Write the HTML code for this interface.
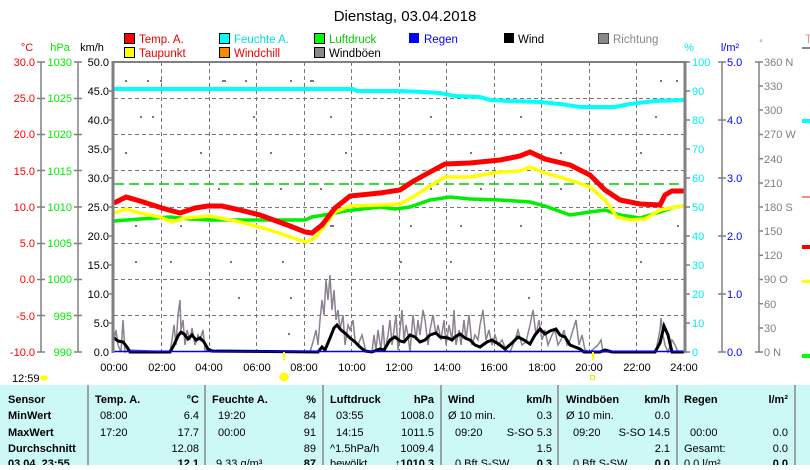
<!DOCTYPE html>
<html><head><meta charset="utf-8"><style>
body{margin:0;background:#fff;width:810px;height:465px;overflow:hidden;font-family:"Liberation Sans",sans-serif}
svg text{font-family:"Liberation Sans",sans-serif}
</style></head><body>
<svg width="810" height="465" viewBox="0 0 810 465" xmlns="http://www.w3.org/2000/svg">
<text x="405" y="21" font-size="15" text-anchor="middle">Dienstag, 03.04.2018</text>
<g font-size="11.5">
<rect x="124.5" y="33.5" width="10" height="10" fill="#f00" stroke="#000"/><text x="139" y="43" fill="#e00">Temp. A.</text>
<rect x="124.5" y="47.5" width="10" height="10" fill="#ff0" stroke="#000"/><text x="139" y="57" fill="#e00">Taupunkt</text>
<rect x="219.5" y="33.5" width="10" height="10" fill="#0ff" stroke="#000"/><text x="234" y="43" fill="#0dd">Feuchte A.</text>
<rect x="219.5" y="47.5" width="10" height="10" fill="#f80" stroke="#000"/><text x="234" y="57" fill="#e00">Windchill</text>
<rect x="314.5" y="33.5" width="10" height="10" fill="#0f0" stroke="#000"/><text x="329" y="43" fill="#0c0">Luftdruck</text>
<rect x="314.5" y="47.5" width="10" height="10" fill="#888" stroke="#000"/><text x="329" y="57">Windböen</text>
<rect x="409" y="33" width="10" height="10" fill="#00f"/><text x="424" y="43" fill="#00f">Regen</text>
<rect x="504" y="33" width="10" height="10" fill="#000"/><text x="518" y="43">Wind</text>
<rect x="598.5" y="33.5" width="10" height="10" fill="#888" stroke="#444"/><text x="613" y="43" fill="#888">Richtung</text>
<text x="805" y="43" fill="#f88">T</text><rect x="802" y="47" width="8" height="2" fill="#888"/>
</g>
<g font-size="11">
<text x="27" y="51" fill="#f00" text-anchor="middle">°C</text>
<text x="60" y="51" fill="#0e0" text-anchor="middle">hPa</text>
<text x="92" y="51" text-anchor="middle">km/h</text>
<text x="689" y="51" fill="#0ee" text-anchor="middle">%</text>
<text x="730" y="51" fill="#00f" text-anchor="middle">l/m²</text>
<text x="761" y="46" fill="#888" font-size="9" text-anchor="middle">°</text>
</g>
<g stroke="#777" stroke-dasharray="4,3" stroke-width="1">
<line x1="114" x2="684" y1="98.5" y2="98.5"/><line x1="114" x2="684" y1="134.5" y2="134.5"/><line x1="114" x2="684" y1="170.5" y2="170.5"/><line x1="114" x2="684" y1="207.5" y2="207.5"/><line x1="114" x2="684" y1="243.5" y2="243.5"/><line x1="114" x2="684" y1="279.5" y2="279.5"/><line x1="114" x2="684" y1="315.5" y2="315.5"/>
<line y1="62" y2="352" x1="161.5" x2="161.5"/><line y1="62" y2="352" x1="209.5" x2="209.5"/><line y1="62" y2="352" x1="256.5" x2="256.5"/><line y1="62" y2="352" x1="304.5" x2="304.5"/><line y1="62" y2="352" x1="351.5" x2="351.5"/><line y1="62" y2="352" x1="399.5" x2="399.5"/><line y1="62" y2="352" x1="446.5" x2="446.5"/><line y1="62" y2="352" x1="494.5" x2="494.5"/><line y1="62" y2="352" x1="541.5" x2="541.5"/><line y1="62" y2="352" x1="589.5" x2="589.5"/><line y1="62" y2="352" x1="636.5" x2="636.5"/>
</g>
<g fill="#777">
<rect x="125" y="80" width="2" height="2"/><rect x="147" y="80" width="2" height="2"/><rect x="160" y="80" width="2" height="2"/><rect x="222" y="80" width="4" height="2"/><rect x="245" y="80" width="2" height="2"/><rect x="290" y="80" width="2" height="2"/><rect x="310" y="80" width="4" height="2"/>
<rect x="140" y="116" width="2" height="2"/><rect x="152" y="116" width="2" height="2"/><rect x="253" y="116" width="2" height="2"/><rect x="330" y="116" width="2" height="2"/><rect x="430" y="116" width="2" height="2"/><rect x="520" y="116" width="2" height="2"/><rect x="655" y="116" width="2" height="2"/>
<rect x="125" y="152" width="2" height="2"/><rect x="200" y="152" width="2" height="2"/><rect x="270" y="152" width="2" height="2"/><rect x="345" y="152" width="2" height="2"/><rect x="470" y="152" width="2" height="2"/><rect x="560" y="152" width="2" height="2"/><rect x="640" y="152" width="2" height="2"/>
<rect x="218" y="188" width="2" height="2"/><rect x="280" y="188" width="2" height="2"/><rect x="320" y="188" width="2" height="2"/><rect x="395" y="188" width="2" height="2"/><rect x="430" y="188" width="2" height="2"/><rect x="480" y="188" width="2" height="2"/><rect x="560" y="188" width="2" height="2"/>
<rect x="135" y="225" width="2" height="2"/><rect x="180" y="225" width="2" height="2"/><rect x="330" y="225" width="4" height="2"/><rect x="410" y="225" width="2" height="2"/><rect x="460" y="225" width="2" height="2"/><rect x="520" y="225" width="2" height="2"/><rect x="677" y="225" width="2" height="2"/>
<rect x="135" y="261" width="2" height="2"/><rect x="170" y="261" width="2" height="2"/><rect x="230" y="261" width="2" height="2"/><rect x="282" y="261" width="2" height="2"/><rect x="400" y="261" width="2" height="2"/><rect x="450" y="261" width="2" height="2"/><rect x="640" y="261" width="2" height="2"/>
<rect x="238" y="297" width="2" height="2"/><rect x="290" y="297" width="2" height="2"/><rect x="528" y="297" width="2" height="2"/><rect x="288" y="333" width="2" height="2"/><rect x="660" y="80" width="2" height="2"/><rect x="676" y="80" width="2" height="2"/>
</g>
<line x1="114" x2="684" y1="184" y2="184" stroke="#0c0" stroke-width="1.5" stroke-dasharray="10,5"/>
<polyline fill="none" stroke="#0ff" stroke-width="4" points="114,89 353,89 357,91 400,91 423,92 440,93 455,96 480,97 490,100 510,101 540,102 560,104 580,107 615,107 630,104 655,101 684,100"/>
<polyline fill="none" stroke="#8a8290" stroke-width="1.5" points="114,340 116,330 118,345 121,352 123,320 125,352 130,350 170,352 172,340 174,325 176,345 178,315 180,300 181,330 183,320 185,345 187,330 190,340 192,328 195,345 198,335 200,340 203,330 205,350 212,352 310,352 313,342 316,330 318,345 320,320 322,300 324,315 326,280 328,300 330,275 332,310 334,290 336,320 338,310 340,330 343,315 345,345 348,325 350,330 353,320 355,340 358,345 362,335 366,352 372,352 374,335 376,350 378,330 381,350 383,325 385,352 388,335 390,320 392,345 394,330 396,315 398,350 400,330 402,310 404,340 406,325 408,335 410,352 413,315 416,340 418,320 420,335 423,310 425,320 428,345 430,330 433,315 436,335 438,325 441,340 444,320 446,345 449,325 452,340 454,310 456,345 459,330 461,345 464,320 466,340 469,315 472,345 475,335 478,340 480,325 483,310 486,340 489,330 492,345 495,335 498,345 502,340 506,350 510,352 515,340 518,330 522,345 526,342 530,325 533,310 536,335 539,320 542,340 545,330 548,345 552,335 555,330 558,345 561,340 564,330 567,345 570,340 573,330 576,320 579,345 582,335 585,350 590,352 598,345 601,340 603,352 656,352 658,340 660,330 661,318 663,335 665,345 668,352 672,340 675,345 678,352 684,352"/>
<polyline fill="none" stroke="#000" stroke-width="3" points="114,338 118,341 123,342 127,347 130,352 170,352 174,345 178,336 181,332 184,334 188,339 192,335 196,340 200,338 204,342 208,349 212,351 318,352 322,347 325,350 330,338 334,328 337,325 341,330 346,334 350,338 355,342 360,347 365,351 372,352 380,349 384,350 390,340 395,337 400,341 404,342 410,335 415,337 420,342 425,340 430,335 436,333 440,337 448,338 452,340 455,337 460,334 465,338 470,340 475,345 480,347 487,342 492,340 500,345 505,349 512,343 518,337 524,340 530,344 535,335 540,329 545,334 550,331 556,329 560,335 565,337 570,345 575,347 580,349 584,352 600,352 605,350 612,352 655,352 660,343 664,326 668,335 672,352 684,352"/>
<line x1="114" x2="684" y1="351.5" y2="351.5" stroke="#00f" stroke-width="1.5"/>
<polyline fill="none" stroke="#0e0" stroke-width="3.5" points="114,221 140,219 170,217 190,219 210,220 240,220 260,220 305,220 312,217 330,214 345,211 380,207 395,209 410,207 430,200 450,197 470,199 500,200 530,202 545,206 570,215 590,212 605,210 620,215 640,218 660,212 675,207 684,206"/>
<polyline fill="none" stroke="#ff0" stroke-width="3.5" points="114,213 126,209 140,213 160,217 172,222 185,218 210,216 240,222 270,230 290,237 306,242 315,238 325,225 335,212 350,206 380,205 400,204 413,197 430,186 445,177 470,177 500,172 520,171 530,167 545,173 570,180 590,187 605,200 617,217 630,220 645,219 660,210 675,207 684,206"/>
<polyline fill="none" stroke="#f00" stroke-width="5" points="114,203 126,197 140,201 162,208 180,213 195,208 208,206 222,206 240,210 260,215 290,226 305,232 312,233 322,225 335,208 350,196 380,193 400,190 412,182 430,172 445,164 470,163 500,160 520,156 530,152 545,159 570,165 590,175 605,190 620,200 640,204 660,205 665,195 672,191 684,191"/>
<line x1="113" y1="61" x2="113" y2="353" stroke="#808080" stroke-width="3"/>
<line x1="113" y1="62" x2="685" y2="62" stroke="#808080" stroke-width="2"/>
<line x1="685" y1="61" x2="685" y2="353" stroke="#808080" stroke-width="3"/>
<g stroke="#808080" stroke-width="1.5">
<line x1="41" y1="62" x2="41" y2="352"/><line x1="78" y1="62" x2="78" y2="352"/><line x1="722" y1="62" x2="722" y2="352"/><line x1="759" y1="62" x2="759" y2="352"/>
</g>
<g font-size="11" fill="#f00" text-anchor="end">
<text x="35" y="66">30.0</text><text x="35" y="102">25.0</text><text x="35" y="138">20.0</text><text x="35" y="175">15.0</text><text x="35" y="211">10.0</text><text x="35" y="247">5.0</text><text x="35" y="283">0.0</text><text x="35" y="320">-5.0</text><text x="35" y="356">-10.0</text>
</g>
<g font-size="11" fill="#0e0" text-anchor="end">
<text x="72" y="66">1030</text><text x="72" y="102">1025</text><text x="72" y="138">1020</text><text x="72" y="175">1015</text><text x="72" y="211">1010</text><text x="72" y="247">1005</text><text x="72" y="283">1000</text><text x="72" y="320">995</text><text x="72" y="356">990</text>
</g>
<g stroke="#808080" stroke-width="1.5">
<line x1="37" x2="45" y1="62" y2="62"/><line x1="37" x2="45" y1="98.5" y2="98.5"/><line x1="37" x2="45" y1="134.5" y2="134.5"/><line x1="37" x2="45" y1="170.5" y2="170.5"/><line x1="37" x2="45" y1="207" y2="207"/><line x1="37" x2="45" y1="243.5" y2="243.5"/><line x1="37" x2="45" y1="279.5" y2="279.5"/><line x1="37" x2="45" y1="315.5" y2="315.5"/><line x1="37" x2="45" y1="352" y2="352"/>
<line x1="74" x2="82" y1="62" y2="62"/><line x1="74" x2="82" y1="98.5" y2="98.5"/><line x1="74" x2="82" y1="134.5" y2="134.5"/><line x1="74" x2="82" y1="170.5" y2="170.5"/><line x1="74" x2="82" y1="207" y2="207"/><line x1="74" x2="82" y1="243.5" y2="243.5"/><line x1="74" x2="82" y1="279.5" y2="279.5"/><line x1="74" x2="82" y1="315.5" y2="315.5"/><line x1="74" x2="82" y1="352" y2="352"/>
<line x1="109" x2="113" y1="91" y2="91"/><line x1="109" x2="113" y1="120" y2="120"/><line x1="109" x2="113" y1="149" y2="149"/><line x1="109" x2="113" y1="178" y2="178"/><line x1="109" x2="113" y1="207" y2="207"/><line x1="109" x2="113" y1="236" y2="236"/><line x1="109" x2="113" y1="265" y2="265"/><line x1="109" x2="113" y1="294" y2="294"/><line x1="109" x2="113" y1="323" y2="323"/>
<line x1="686" x2="690" y1="91" y2="91"/><line x1="686" x2="690" y1="120" y2="120"/><line x1="686" x2="690" y1="149" y2="149"/><line x1="686" x2="690" y1="178" y2="178"/><line x1="686" x2="690" y1="207" y2="207"/><line x1="686" x2="690" y1="236" y2="236"/><line x1="686" x2="690" y1="265" y2="265"/><line x1="686" x2="690" y1="294" y2="294"/><line x1="686" x2="690" y1="323" y2="323"/><line x1="686" x2="690" y1="62" y2="62"/><line x1="686" x2="690" y1="352" y2="352"/>
<line x1="718" x2="726" y1="62" y2="62"/><line x1="718" x2="726" y1="120" y2="120"/><line x1="718" x2="726" y1="178" y2="178"/><line x1="718" x2="726" y1="236" y2="236"/><line x1="718" x2="726" y1="294" y2="294"/><line x1="718" x2="726" y1="352" y2="352"/>
<line x1="755" x2="763" y1="62" y2="62"/><line x1="759" x2="763" y1="86" y2="86"/><line x1="759" x2="763" y1="110" y2="110"/><line x1="759" x2="763" y1="134.5" y2="134.5"/><line x1="759" x2="763" y1="158.7" y2="158.7"/><line x1="759" x2="763" y1="183" y2="183"/><line x1="759" x2="763" y1="207" y2="207"/><line x1="759" x2="763" y1="231" y2="231"/><line x1="759" x2="763" y1="255.3" y2="255.3"/><line x1="759" x2="763" y1="279.5" y2="279.5"/><line x1="759" x2="763" y1="303.7" y2="303.7"/><line x1="759" x2="763" y1="328" y2="328"/><line x1="755" x2="763" y1="352" y2="352"/>
</g>
<g font-size="11" text-anchor="end">
<text x="109" y="66">50.0</text><text x="109" y="95">45.0</text><text x="109" y="124">40.0</text><text x="109" y="153">35.0</text><text x="109" y="182">30.0</text><text x="109" y="211">25.0</text><text x="109" y="240">20.0</text><text x="109" y="269">15.0</text><text x="109" y="298">10.0</text><text x="109" y="327">5.0</text><text x="109" y="356">0.0</text>
</g>
<g font-size="11" fill="#0ee">
<text x="692" y="66">100</text><text x="692" y="95">90</text><text x="692" y="124">80</text><text x="692" y="153">70</text><text x="692" y="182">60</text><text x="692" y="211">50</text><text x="692" y="240">40</text><text x="692" y="269">30</text><text x="692" y="298">20</text><text x="692" y="327">10</text><text x="692" y="356">0</text>
</g>
<g font-size="11" fill="#00f">
<text x="727" y="66">5.0</text><text x="727" y="124">4.0</text><text x="727" y="182">3.0</text><text x="727" y="240">2.0</text><text x="727" y="298">1.0</text><text x="727" y="356">0.0</text>
</g>
<g font-size="11" fill="#808080">
<text x="764" y="66">360 N</text><text x="764" y="90">330</text><text x="764" y="114">300</text><text x="764" y="138">270 W</text><text x="764" y="163">240</text><text x="764" y="187">210</text><text x="764" y="211">180 S</text><text x="764" y="235">150</text><text x="764" y="259">120</text><text x="764" y="283">90  O</text><text x="764" y="308">60</text><text x="764" y="332">30</text><text x="764" y="356">0   N</text>
</g>
<rect x="802" y="119" width="8" height="4" fill="#0ff"/><rect x="802" y="196" width="8" height="2" fill="#f88"/><rect x="802" y="245" width="8" height="4" fill="#f00"/><rect x="802" y="280" width="8" height="3" fill="#ff0"/><rect x="802" y="354" width="8" height="4" fill="#0f0"/>
<g font-size="11" text-anchor="middle">
<text x="114" y="371">00:00</text><text x="162" y="371">02:00</text><text x="209" y="371">04:00</text><text x="257" y="371">06:00</text><text x="304" y="371">08:00</text><text x="352" y="371">10:00</text><text x="399" y="371">12:00</text><text x="447" y="371">14:00</text><text x="494" y="371">16:00</text><text x="542" y="371">18:00</text><text x="589" y="371">20:00</text><text x="637" y="371">22:00</text><text x="684" y="371">24:00</text>
</g>
<rect x="283" y="352" width="2" height="8" fill="#ff0"/><rect x="592" y="352" width="2" height="8" fill="#ff0"/>
<circle cx="284" cy="377" r="4" fill="#ff0" stroke="#fe0" stroke-width="1.5" stroke-dasharray="1.5,1.5"/>
<rect x="590.5" y="375.5" width="4" height="4" fill="none" stroke="#ee0"/>
<text x="12" y="382" font-size="11">12:59</text><ellipse cx="44" cy="378" rx="4" ry="2.5" fill="#ff0"/>
<rect x="0" y="385" width="810" height="80" fill="#ccf8f6"/>
<g stroke="#888" stroke-width="1.5">
<line x1="88" y1="385" x2="88" y2="465"/><line x1="205" y1="385" x2="205" y2="465"/><line x1="323" y1="385" x2="323" y2="465"/><line x1="441" y1="385" x2="441" y2="465"/><line x1="558" y1="385" x2="558" y2="465"/><line x1="677" y1="385" x2="677" y2="465"/><line x1="795" y1="385" x2="795" y2="465"/>
</g>
<g font-size="11">
<g font-weight="bold"><text x="8" y="403">Sensor</text><text x="8" y="419">MinWert</text><text x="8" y="436">MaxWert</text><text x="8" y="452">Durchschnitt</text><text x="8" y="467">03.04. 23:55</text>
<text x="95" y="403">Temp. A.</text><text x="199" y="403" text-anchor="end">°C</text>
<text x="212" y="403">Feuchte A.</text><text x="316" y="403" text-anchor="end">%</text>
<text x="330" y="403">Luftdruck</text><text x="434" y="403" text-anchor="end">hPa</text>
<text x="448" y="403">Wind</text><text x="552" y="403" text-anchor="end">km/h</text>
<text x="566" y="403">Windböen</text><text x="670" y="403" text-anchor="end">km/h</text>
<text x="684" y="403">Regen</text><text x="788" y="403" text-anchor="end">l/m²</text></g>
<text x="100" y="419">08:00</text><text x="199" y="419" text-anchor="end">6.4</text>
<text x="100" y="436">17:20</text><text x="199" y="436" text-anchor="end">17.7</text>
<text x="199" y="452" text-anchor="end">12.08</text><text x="199" y="467" text-anchor="end" font-weight="bold">12.1</text>
<text x="218" y="419">19:20</text><text x="316" y="419" text-anchor="end">84</text>
<text x="218" y="436">00:00</text><text x="316" y="436" text-anchor="end">91</text>
<text x="316" y="452" text-anchor="end">89</text><text x="216" y="467">9.33 g/m³</text><text x="316" y="467" text-anchor="end" font-weight="bold">87</text>
<text x="336" y="419">03:55</text><text x="434" y="419" text-anchor="end">1008.0</text>
<text x="336" y="436">14:15</text><text x="434" y="436" text-anchor="end">1011.5</text>
<text x="330" y="452">^1.5hPa/h</text><text x="434" y="452" text-anchor="end">1009.4</text>
<text x="330" y="467">bewölkt</text><text x="434" y="467" text-anchor="end" font-weight="bold">↑1010.3</text>
<text x="448" y="419">Ø 10 min.</text><text x="552" y="419" text-anchor="end">0.3</text>
<text x="455" y="436">09:20</text><text x="552" y="436" text-anchor="end">S-SO 5.3</text>
<text x="552" y="452" text-anchor="end">1.5</text><text x="455" y="467">0 Bft S-SW</text><text x="552" y="467" text-anchor="end" font-weight="bold">0.3</text>
<text x="566" y="419">Ø 10 min.</text><text x="670" y="419" text-anchor="end">0.0</text>
<text x="573" y="436">09:20</text><text x="670" y="436" text-anchor="end">S-SO 14.5</text>
<text x="670" y="452" text-anchor="end">2.1</text><text x="573" y="467">0 Bft S-SW</text><text x="670" y="467" text-anchor="end" font-weight="bold">0.0</text>
<text x="690" y="436">00:00</text><text x="788" y="436" text-anchor="end">0.0</text>
<text x="684" y="452">Gesamt:</text><text x="788" y="452" text-anchor="end">0.0</text>
<text x="684" y="467">0.0 l/m²</text><text x="788" y="467" text-anchor="end" font-weight="bold">0.0</text>
</g>
</svg>
</body></html>
